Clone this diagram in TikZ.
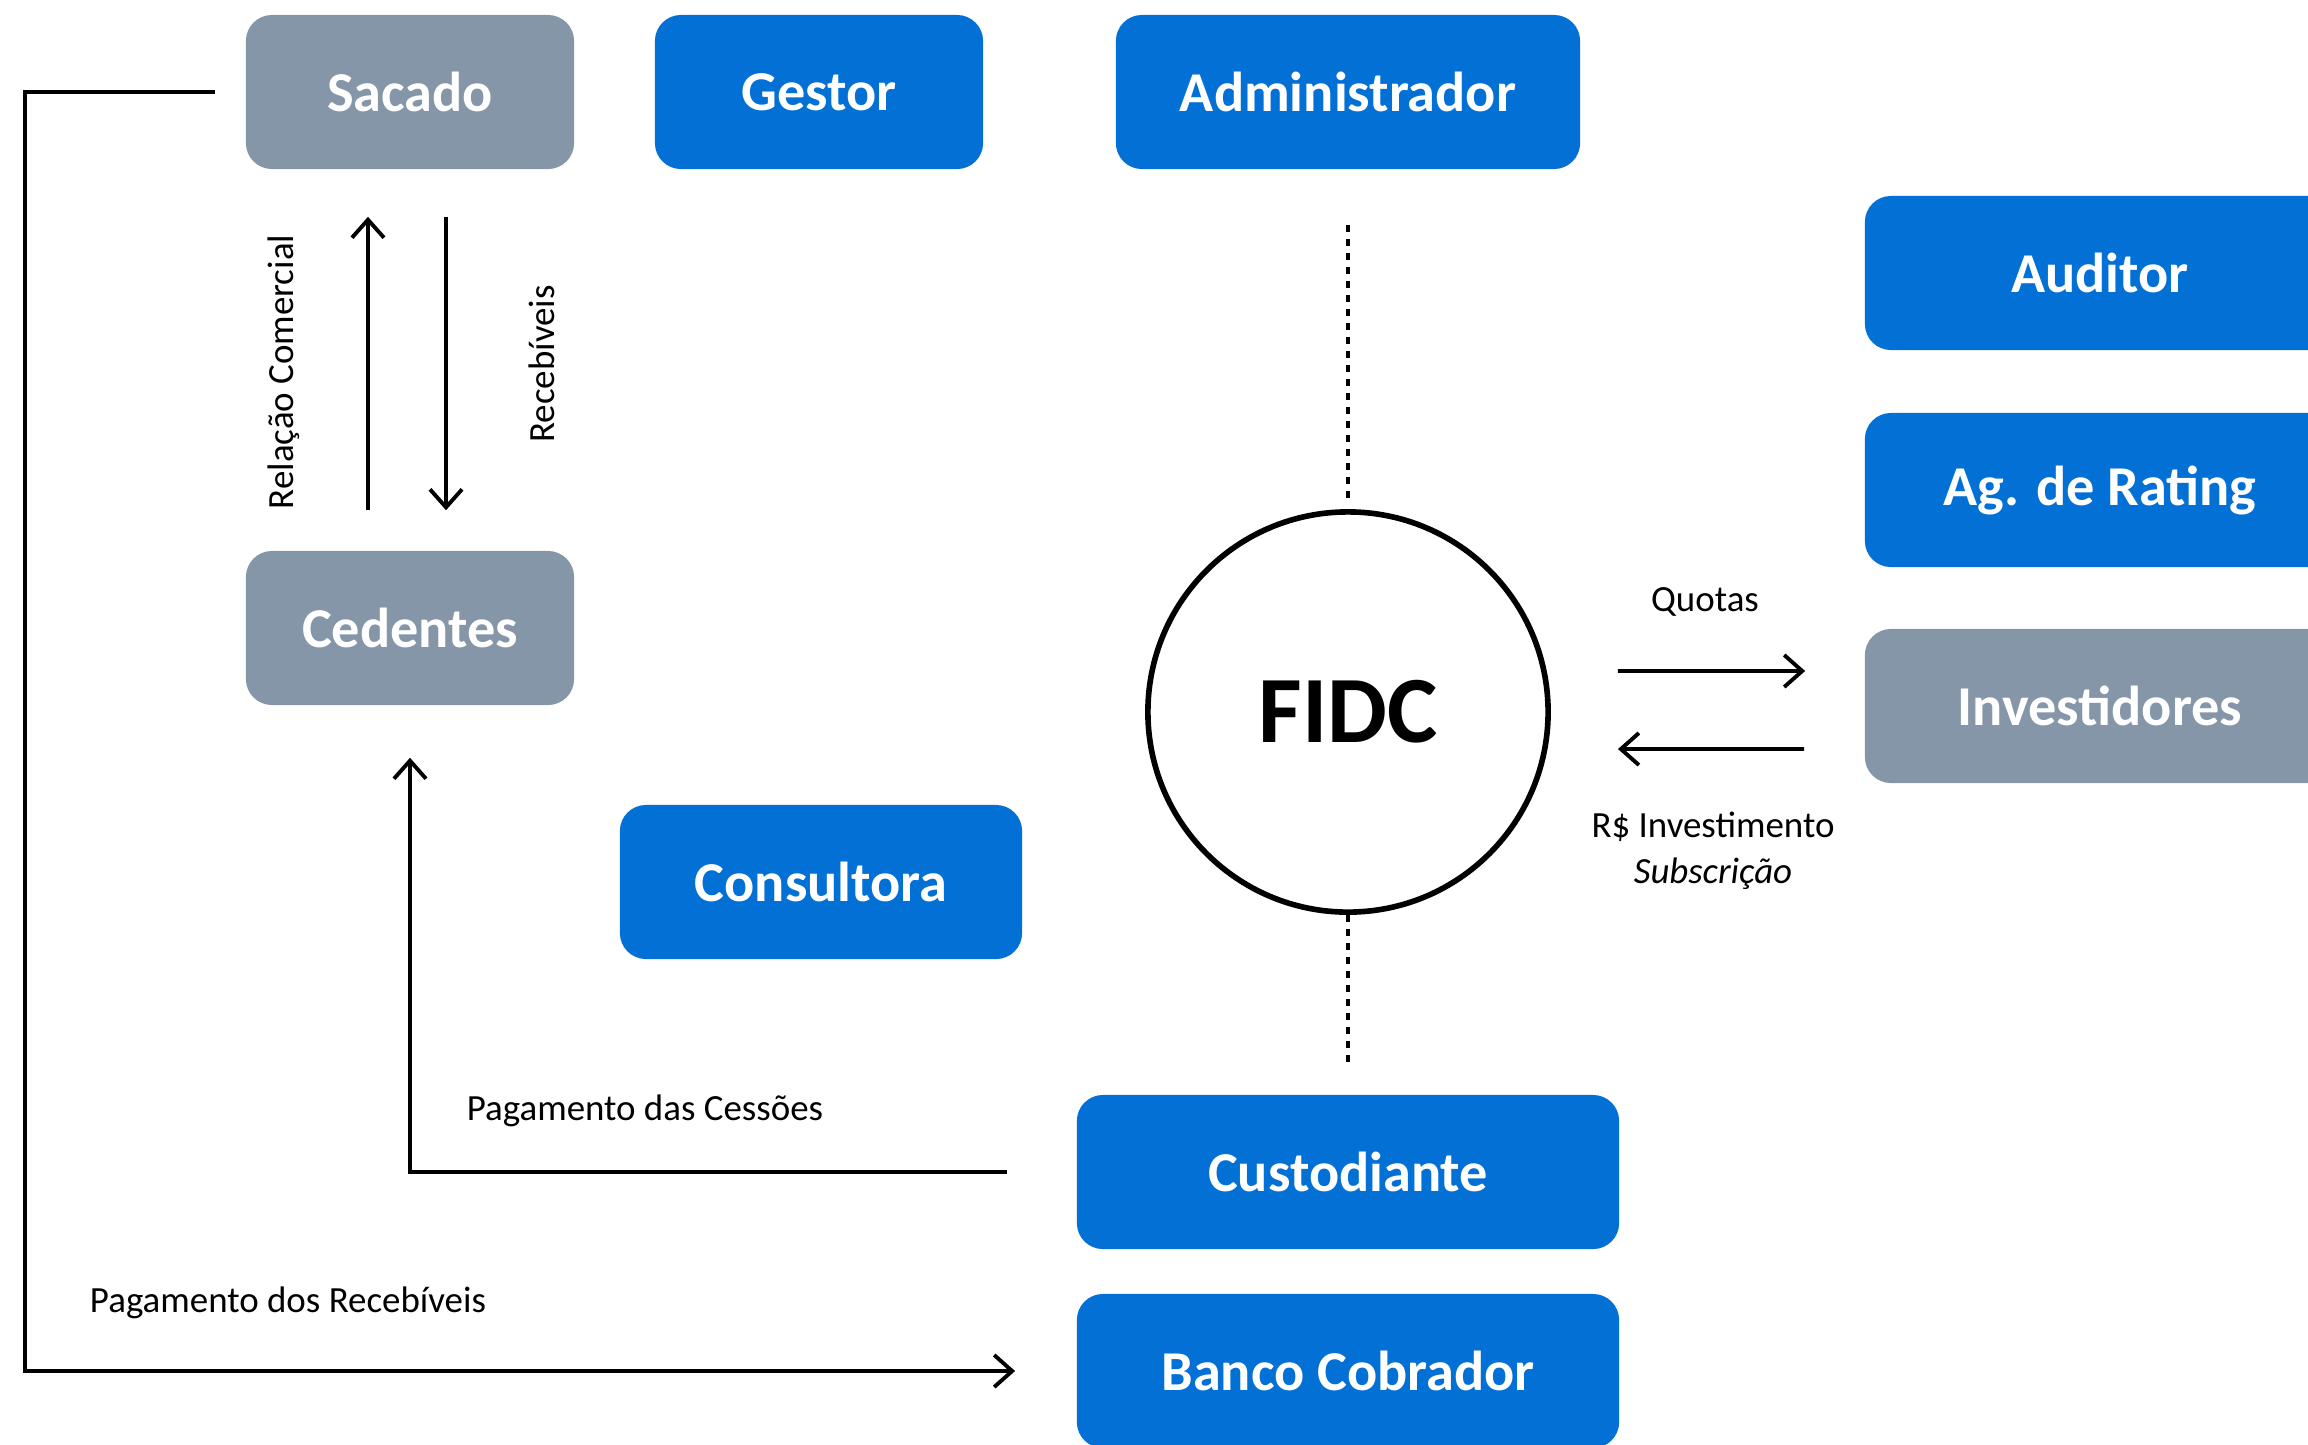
\documentclass[tikz,border=0pt]{standalone}
\usepackage{fontspec}
\setmainfont{Carlito}
\usetikzlibrary{arrows.meta}
\definecolor{fidcblue}{RGB}{3,112,214}
\definecolor{fidcgray}{RGB}{132,150,168}

\begin{document}
\begin{tikzpicture}[x=0.01cm,y=-0.01cm,
    box/.style={rounded corners=0.26cm,minimum height=1.54cm,text=white,
        font=\fontsize{16}{19}\selectfont\bfseries},
    bluebox/.style={box,fill=fidcblue},
    graybox/.style={box,fill=fidcgray},
    lbl/.style={font=\fontsize{10.5}{13}\selectfont},
    arr/.style={line width=1.1pt,-{Straight Barb[length=0.18cm,width=0.32cm]}},
    link/.style={line width=1.1pt,dash pattern=on 0.07cm off 0.07cm}]
    \useasboundingbox (0,0) rectangle (2308,1444);
    \clip (0,0) rectangle (2308,1444);
    \node[graybox,minimum width=3.28cm] (sacado) at (410,92) {Sacado};
    \node[bluebox,minimum width=3.28cm] (gestor) at (819,92) {Gestor};
    \node[bluebox,minimum width=4.64cm] (admin) at (1348,92) {Administrador};
    \node[bluebox,minimum width=4.70cm] (auditor) at (2100,273) {Auditor};
    \node[bluebox,minimum width=4.70cm] (rating) at (2100,490) {Ag. de Rating};
    \node[graybox,minimum width=4.70cm] (invest) at (2100,706) {Investidores};
    \node[graybox,minimum width=3.28cm] (cedentes) at (410,628) {Cedentes};
    \node[bluebox,minimum width=4.02cm] (consultora) at (821,882) {Consultora};
    \node[bluebox,minimum width=5.42cm] (custodiante) at (1348,1172) {Custodiante};
    \node[bluebox,minimum width=5.42cm] (banco) at (1348,1371) {Banco Cobrador};
    \node[circle,draw,line width=1.6pt,minimum size=4cm,
        font=\fontsize{27}{31}\selectfont\bfseries] (fidc) at (1348,712) {FIDC};
    \coordinate (leftrail) at (25,700);

    \draw[link,shorten <=0.55cm,shorten >=0.09cm] (admin.south) -- (fidc.north);
    \draw[link,shorten >=0.32cm] (fidc.south) -- (custodiante.north);

    \draw[arr] ([xshift=-0.42cm,yshift=0.40cm]cedentes.north) -- ([xshift=-0.42cm,yshift=-0.47cm]sacado.south);
    \draw[arr] ([xshift=0.36cm,yshift=-0.47cm]sacado.south) -- ([xshift=0.36cm,yshift=0.40cm]cedentes.north);
    \node[lbl,rotate=90] at (284,372) {Relação Comercial};
    \node[lbl,rotate=90] at (542,364) {Recebíveis};

    \draw[arr,shorten <=0.67cm,shorten >=0.59cm] ([yshift=0.41cm]fidc.east) -- ([yshift=0.35cm]invest.west);
    \draw[arr,shorten <=0.60cm,shorten >=0.67cm] ([yshift=-0.43cm]invest.west) -- ([yshift=-0.37cm]fidc.east);
    \node[lbl] at (1705,602) {Quotas};
    \node[lbl,align=center] at (1713,851) {R\$ Investimento\\\textit{Subscrição}};

    \draw[arr] ([xshift=-0.69cm]custodiante.west) -| ([yshift=-0.52cm]cedentes.south);
    \node[lbl] at (645,1111) {Pagamento das Cessões};

    \draw[arr] ([xshift=-0.30cm]sacado.west) -| (leftrail) |- ([xshift=-0.61cm]banco.west);
    \node[lbl] at (288,1303) {Pagamento dos Recebíveis};
\end{tikzpicture}
\end{document}
